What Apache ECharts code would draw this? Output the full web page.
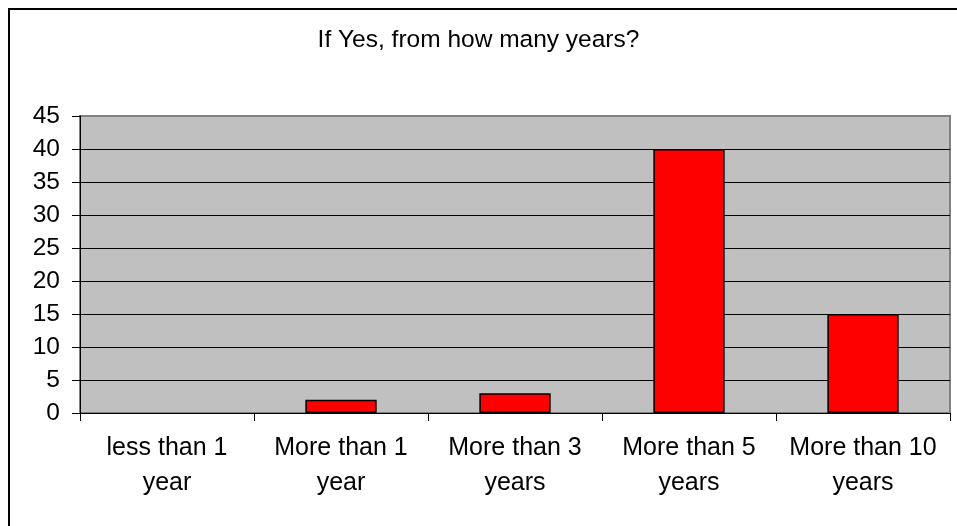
<!DOCTYPE html>
<html>
<head>
<meta charset="utf-8">
<script src="https://cdn.jsdelivr.net/npm/echarts@6/dist/echarts.min.js"></script>
<style>html,body{margin:0;padding:0;background:#fff;}#c{width:957px;height:526px;}</style>
</head>
<body>
<div id="c"></div>
<script>
const categories = ['less than 1\nyear', 'More than 1\nyear', 'More than 3\nyears', 'More than 5\nyears', 'More than 10\nyears'];
const values = [0, 2, 3, 40, 15];
const titleText = 'If Yes, from how many years?';

const chart = echarts.init(document.getElementById('c'));
const font = '"Liberation Sans", Arial, sans-serif';
const splitColors = ['#000','#000','#000','#000','#000','#000','#000','#000','#000','#808080'];
chart.setOption({
  animation: false,
  backgroundColor: '#fff',
  title: {
    text: titleText,
    left: 'center',
    top: 28,
    padding: 0,
    textStyle: { fontFamily: font, fontSize: 24.5, fontWeight: 'normal', color: '#000' }
  },
  graphic: [{
    type: 'rect',
    shape: { x: 9, y: 9, width: 980, height: 560 },
    style: { fill: 'none', stroke: '#000', lineWidth: 2 },
    silent: true, z: 100
  }],
  grid: {
    left: 80, right: 7, top: 116, bottom: 113,
    show: true, backgroundColor: '#C0C0C0', borderColor: '#808080', borderWidth: 2
  },
  xAxis: {
    type: 'category',
    data: categories,
    axisLine: { show: true, lineStyle: { color: '#000', width: 1 } },
    axisTick: { show: true, length: 8, alignWithLabel: false, lineStyle: { color: '#000' } },
    axisLabel: { fontFamily: font, fontSize: 25, color: '#000', margin: 18, lineHeight: 35, interval: 0 },
    splitLine: { show: false }
  },
  yAxis: {
    type: 'value',
    min: 0, max: 45, interval: 5,
    axisLine: { show: true, lineStyle: { color: '#000', width: 1 } },
    axisTick: { show: true, length: 8, lineStyle: { color: '#000' } },
    axisLabel: { fontFamily: font, fontSize: 24.5, color: '#000', margin: 20 },
    splitLine: { show: true, lineStyle: { color: splitColors, width: 1 } }
  },
  series: [{
    type: 'bar',
    data: values.map(v => v === 0 ? { value: v, itemStyle: { borderWidth: 0 } } : v),
    barWidth: '41%',
    itemStyle: { color: '#FF0000', borderColor: '#000', borderWidth: 1.5 }
  }]
});
</script>
</body>
</html>
